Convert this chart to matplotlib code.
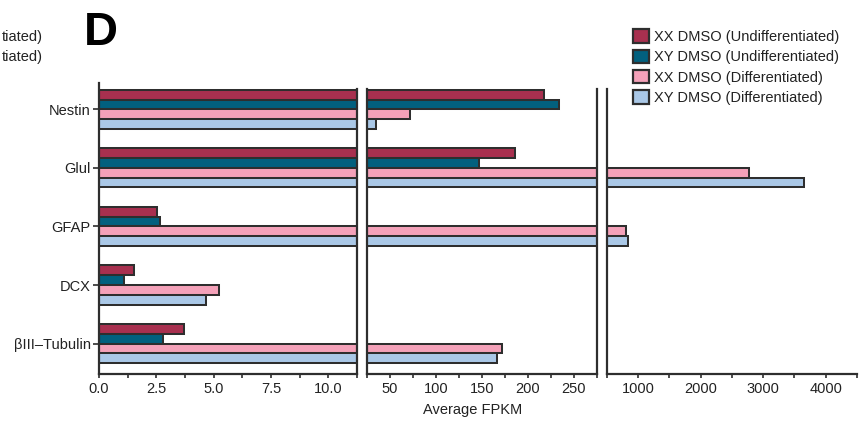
import matplotlib
matplotlib.use("Agg")
import matplotlib.pyplot as plt
from matplotlib.patches import Patch
import numpy as np

plt.rcParams['font.family'] = ['Liberation Sans', 'DejaVu Sans']

genes = ["Nestin", "Glul", "GFAP", "DCX", "\u03b2III\u2013Tubulin"]
series = ["XX DMSO (Undifferentiated)", "XY DMSO (Undifferentiated)",
          "XX DMSO (Differentiated)", "XY DMSO (Differentiated)"]
colors = ["#a8304f", "#02607e", "#f4a1b9", "#aac8e7"]

xx_undiff = [217, 186, 2.52, 1.52, 3.7]
xy_undiff = [234, 147, 2.65, 1.09, 2.8]
xx_diff = [72, 2780, 805, 5.22, 172]
xy_diff = [35, 3660, 837, 4.65, 166]
values = [xx_undiff, xy_undiff, xx_diff, xy_diff]

panel_limits = [(0, 11.25), (25, 275), (500, 4500)]
panel_ticks = [np.arange(0, 11.26, 1.25), np.arange(25, 276, 25), np.arange(500, 4501, 500)]
panel_labels = [[0.0, 2.5, 5.0, 7.5, 10.0], [50, 100, 150, 200, 250], [1000, 2000, 3000, 4000]]

W, H = 862, 424
fig = plt.figure(figsize=(W / 100, H / 100), dpi=100)

txt = "#222222"
edge = "#2e2e2e"
fs = 10.5

# pixel positions of panels (left, right)
panel_px = [(99, 357), (367, 597), (607, 857)]
top_px, bot_px = 83, 374

ypos = np.arange(len(genes))[::-1].astype(float)  # Nestin at top
h = 0.1667
offsets = [1.5 * h, 0.5 * h, -0.5 * h, -1.5 * h]

axes = []
for k, (l, r) in enumerate(panel_px):
    ax = fig.add_axes([l / W, (H - bot_px) / H, (r - l) / W, (bot_px - top_px) / H])
    axes.append(ax)
    for s in range(4):
        ax.barh(ypos + offsets[s], values[s], height=h, color=colors[s],
                edgecolor=edge, linewidth=1.45, zorder=2)
    ax.set_xlim(*panel_limits[k])
    ax.set_ylim(-0.52, 4.45)
    ticks = panel_ticks[k]
    ax.set_xticks(ticks)
    labs = []
    for t in ticks:
        match = [v for v in panel_labels[k] if abs(v - t) < 1e-6]
        if match:
            labs.append(f"{match[0]:.1f}" if k == 0 else f"{int(match[0])}")
        else:
            labs.append("")
    ax.set_xticklabels(labs)
    ax.tick_params(axis='x', length=3, width=1.2, color=edge, labelsize=fs,
                   labelcolor=txt, pad=3)
    ax.spines['top'].set_visible(False)
    for sp in ['left', 'right', 'bottom']:
        ax.spines[sp].set_linewidth(1.6)
        ax.spines[sp].set_color(edge)
    if k == 2:
        ax.spines['right'].set_visible(False)
    if k == 0:
        ax.set_yticks(ypos)
        ax.set_yticklabels(genes)
        ax.tick_params(axis='y', length=4, width=1.2, color=edge, labelsize=fs,
                       labelcolor=txt, pad=2)
    else:
        ax.set_yticks([])
        ax.spines['left'].set_bounds(-0.52, 4.35)
    if k in (0, 1):
        ax.spines['right'].set_bounds(-0.52, 4.35)

fig.text(473 / W, 1 - 410 / H, "Average FPKM", ha='center', va='center',
         fontsize=fs, color=txt)

fig.text(84 / W, 1 - 45 / H, "D", ha='left', va='baseline', fontsize=34,
         fontweight='bold', color='black')

fig.text(43 / W, 1 - 37 / H, "tiated)", ha='right', va='center', fontsize=fs, color=txt)
fig.text(43 / W, 1 - 57 / H, "tiated)", ha='right', va='center', fontsize=fs, color=txt)

handles = [Patch(facecolor=c, edgecolor=edge, linewidth=1.6) for c in colors]
fig.legend(handles, series, loc='upper left', bbox_to_anchor=(626 / W, 1 - 22 / H),
           frameon=False, fontsize=fs, handlelength=1.05, handleheight=1.05,
           handletextpad=0.35, labelspacing=0.38, borderpad=0, labelcolor=txt)

fig.savefig("out.png", dpi=100)
